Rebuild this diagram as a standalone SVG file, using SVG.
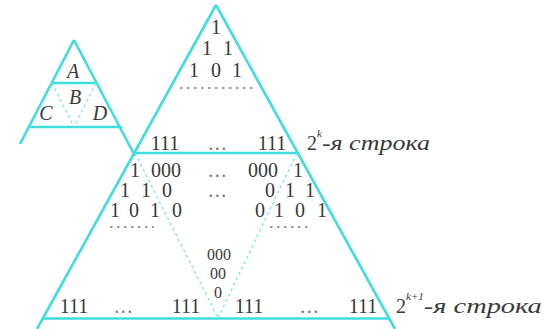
<svg xmlns="http://www.w3.org/2000/svg" width="549" height="329" viewBox="0 0 549 329">
<style>
.ln{stroke:#3fdede;stroke-width:2.6;fill:none;stroke-linecap:butt}
.ds{stroke:#7fe6e6;stroke-width:1.3;fill:none;stroke-dasharray:3 3}
.dt{stroke:#9a9a9a;stroke-width:2;fill:none;stroke-dasharray:2.5 4.5}
.d{font-family:"Liberation Serif",serif;font-size:20px;fill:#3a3a3a;text-anchor:middle}
.z{font-family:"Liberation Serif",serif;font-size:16px;fill:#3a3a3a;text-anchor:middle}
.e{font-family:"Liberation Serif",serif;font-size:20px;fill:#777;text-anchor:middle;letter-spacing:1.5px}
.it{font-family:"Liberation Serif",serif;font-style:italic;font-size:20px;fill:#3a3a3a}
.lt{font-family:"Liberation Serif",serif;font-style:italic;font-size:20px;fill:#3a3a3a;text-anchor:middle}
</style>
<g id="connectors">
<line class="ln" x1="74" y1="40" x2="20" y2="144"/>
<line class="ln" x1="74" y1="40" x2="135" y2="156"/>
<line class="ln" x1="28" y1="127" x2="122" y2="127"/>
<line class="ln" x1="52" y1="83" x2="96" y2="83"/>
<line class="ds" x1="52" y1="83" x2="74" y2="127"/>
<line class="ds" x1="96" y1="83" x2="74" y2="127"/>
<line class="ln" x1="216" y1="5" x2="37" y2="329"/>
<line class="ln" x1="216" y1="5" x2="395" y2="329"/>
<line class="ln" x1="135" y1="153" x2="298" y2="153"/>
<line class="ln" x1="42" y1="318.5" x2="390" y2="318.5"/>
<line class="ds" x1="135" y1="153" x2="218" y2="318"/>
<line class="ds" x1="297" y1="153" x2="218" y2="318"/>
<line class="dt" x1="180" y1="88" x2="254" y2="88"/>
<line class="dt" x1="110" y1="227" x2="154" y2="227"/>
<line class="dt" x1="270" y1="227" x2="312" y2="227"/>
</g>
<g id="small-triangle">
<text class="lt" x="73" y="78">A</text>
<text class="lt" x="75" y="104">B</text>
<text class="lt" x="46" y="120">C</text>
<text class="lt" x="100" y="120">D</text>
</g>
<g id="top-rows">
<text class="d" x="216" y="34">1</text>
<text class="d" x="207 228" y="55">11</text>
<text class="d" x="194 216 237" y="77">101</text>
</g>
<g id="row-2k">
<text class="d" x="165" y="150">111</text>
<text class="e" x="218" y="150">...</text>
<text class="d" x="272" y="150">111</text>
<text class="it" x="307" y="150"><tspan font-style="normal">2</tspan><tspan font-size="11" dy="-13">k</tspan><tspan dy="13" textLength="108" lengthAdjust="spacingAndGlyphs">-я строка</tspan></text>
</g>
<g id="middle-rows">
<text class="d" x="135" y="177">1</text>
<text class="d" x="166" y="177">000</text>
<text class="e" x="218" y="177">...</text>
<text class="d" x="263" y="177">000</text>
<text class="d" x="298" y="177">1</text>
<text class="d" x="125 146 167" y="197">110</text>
<text class="e" x="218" y="197">...</text>
<text class="d" x="270 290 310" y="197">011</text>
<text class="d" x="115 134 155 177" y="217">1010</text>
<text class="d" x="260 279 300 322" y="217">0101</text>
</g>
<g id="zero-triangle">
<text class="z" x="219" y="260">000</text>
<text class="z" x="218" y="279">00</text>
<text class="z" x="218" y="298">0</text>
</g>
<g id="row-2k1">
<text class="d" x="74" y="313">111</text>
<text class="e" x="124" y="313">...</text>
<text class="d" x="186" y="313">111</text>
<text class="d" x="249" y="313">111</text>
<text class="e" x="310" y="313">...</text>
<text class="d" x="363" y="313">111</text>
<text class="it" x="396" y="313"><tspan font-style="normal">2</tspan><tspan font-size="11" dy="-13">k+1</tspan><tspan dy="13" textLength="118" lengthAdjust="spacingAndGlyphs">-я строка</tspan></text>
</g>
</svg>
